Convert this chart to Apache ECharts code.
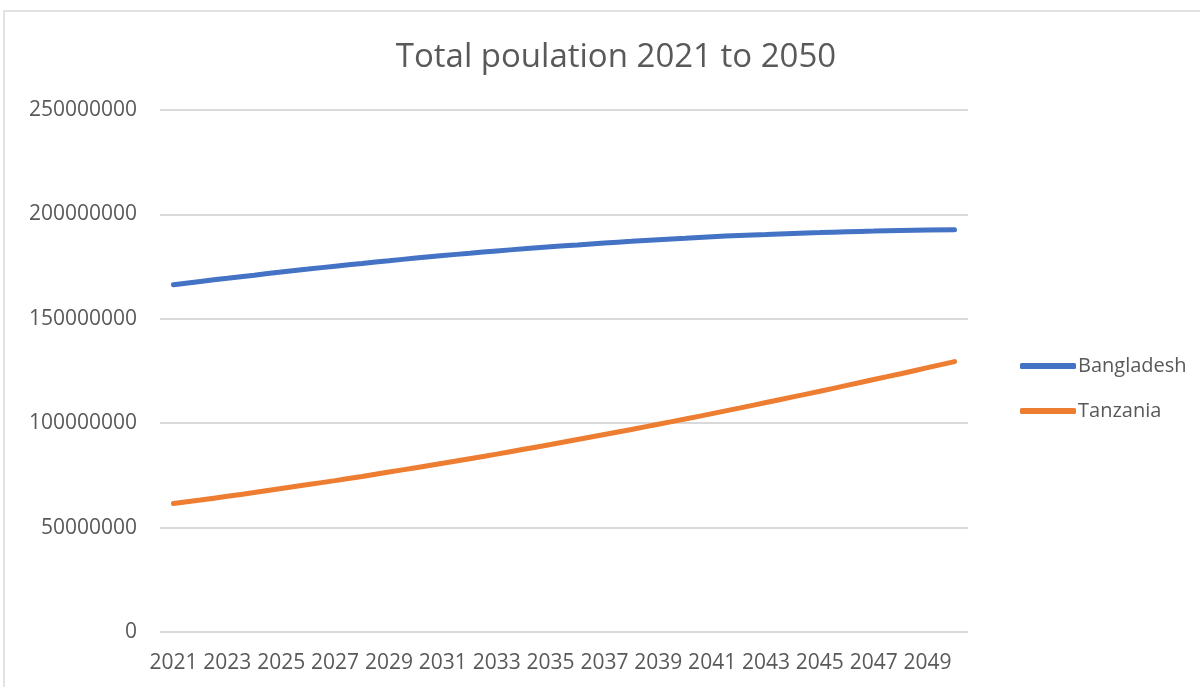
<!DOCTYPE html>
<html>
<head>
<meta charset="utf-8">
<script src="https://cdn.jsdelivr.net/npm/echarts@6/dist/echarts.min.js"></script>
<style>html,body{margin:0;padding:0;background:#fff;}#c{width:1200px;height:687px;}</style>
</head>
<body>
<div id="c"></div>
<script>
const years = ['2021','2022','2023','2024','2025','2026','2027','2028','2029','2030','2031','2032','2033','2034','2035','2036','2037','2038','2039','2040','2041','2042','2043','2044','2045','2046','2047','2048','2049','2050'];
const bangladesh = [166.3,167.9,169.4,170.9,172.4,173.8,175.2,176.5,177.8,179.1,180.3,181.4,182.5,183.5,184.5,185.4,186.3,187.1,187.9,188.6,189.3,189.9,190.4,190.9,191.3,191.7,192.0,192.3,192.5,192.6].map(v => Math.round(v * 1e6));
const tanzania = [61.5,63.2,65.0,66.8,68.7,70.6,72.5,74.5,76.6,78.7,80.8,83.0,85.2,87.5,89.8,92.2,94.6,97.0,99.5,102.0,104.6,107.2,109.9,112.6,115.3,118.1,120.9,123.7,126.6,129.5].map(v => Math.round(v * 1e6));
const seriesNames = ['Bangladesh','Tanzania'];
const titleText = 'Total poulation 2021 to 2050';

const font = 'Open Sans';
const txt = '#595959';
const chart = echarts.init(document.getElementById('c'), null, {renderer:'canvas'});
chart.setOption({
  animation: false,
  backgroundColor: '#fff',
  title: {
    text: titleText, left: 611, top: 36, textAlign: 'center',
    textStyle: {fontFamily: font, fontSize: 33, fontWeight: 'normal', color: txt}
  },
  graphic: [{
    type: 'rect', shape: {x: 4, y: 11, width: 1300, height: 800},
    style: {fill: 'none', stroke: '#d9d9d9', lineWidth: 1.5}, silent: true, z: -10
  }],
  legend: {
    orient: 'vertical', left: 1015, top: 351, itemGap: 25,
    itemWidth: 56, itemHeight: 6, icon: 'roundRect',
    textStyle: {fontFamily: font, fontSize: 20, color: txt, padding: [0,0,0,-3]},
    data: seriesNames
  },
  grid: {left: 160, right: 232, top: 110, bottom: 55},
  xAxis: {
    type: 'category', data: years, boundaryGap: true,
    axisLine: {show: false}, axisTick: {show: false},
    axisLabel: {interval: 1, margin: 21, fontFamily: font, fontSize: 21, color: txt}
  },
  yAxis: {
    type: 'value', min: 0, max: 250000000, interval: 50000000,
    axisLine: {show: false}, axisTick: {show: false},
    splitLine: {lineStyle: {color: '#d9d9d9', width: 2}},
    axisLabel: {margin: 23, fontFamily: font, fontSize: 21, color: txt, formatter: v => String(v)}
  },
  series: [
    {name: seriesNames[0], type: 'line', data: bangladesh, smooth: true, symbol: 'none',
     lineStyle: {color: '#4472C4', width: 5, cap: 'round'}, itemStyle: {color: '#4472C4'}},
    {name: seriesNames[1], type: 'line', data: tanzania, smooth: true, symbol: 'none',
     lineStyle: {color: '#ED7D31', width: 5, cap: 'round'}, itemStyle: {color: '#ED7D31'}}
  ]
});
</script>
</body>
</html>
